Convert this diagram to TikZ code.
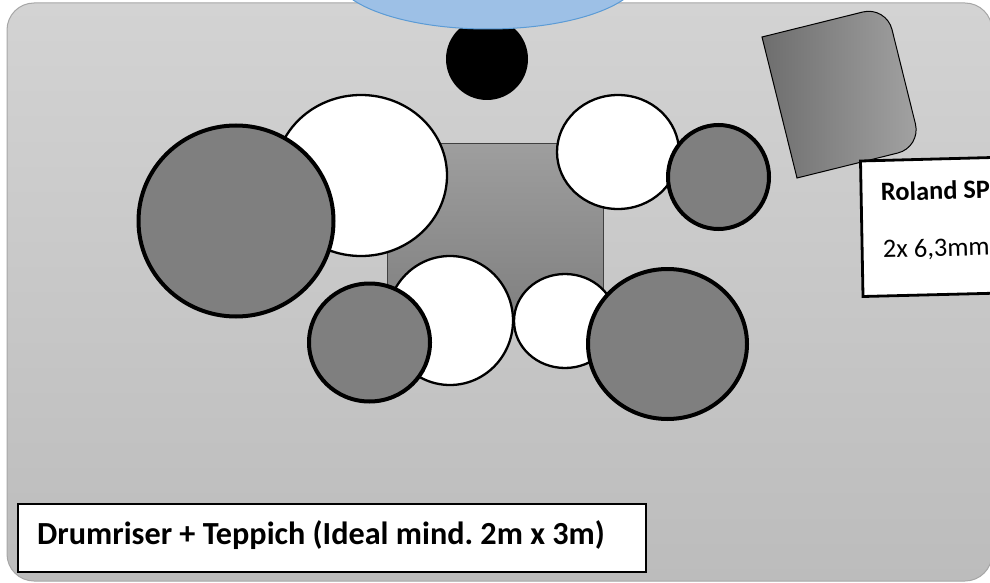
\documentclass[tikz,border=0pt]{standalone}
\usepackage{fontspec}
\setmainfont{Carlito}
\frenchspacing
\definecolor{bgtop}{HTML}{D3D3D3}
\definecolor{bgbot}{HTML}{BCBCBC}
\definecolor{bgline}{HTML}{A6A6A6}
\definecolor{grayfill}{HTML}{7F7F7F}
\definecolor{bluefill}{HTML}{9DC0E6}
\definecolor{blueline}{HTML}{5B9BD5}
\tikzset{
  whitedisc/.style={draw=black,line width=2.3pt,fill=white},
  graydisc/.style={draw=black,line width=4pt,fill=grayfill},
  labelbox/.style={draw=black,line width=2.8pt,fill=white},
  labeltext/.style={anchor=base west,inner sep=0pt,text=black}
}
\begin{document}
\begin{tikzpicture}[x=1pt,y=-1pt]
\useasboundingbox (0,0) rectangle (990,583);
\clip (0,0) rectangle (990,583);
% stage floor
\path[draw=bgline,line width=1pt,top color=bgtop,bottom color=bgbot,rounded corners=27pt]
  (7,3) rectangle (992,581);
% drummer and monitor
\fill[black] (487,59) ellipse [x radius=41,y radius=41];
\path[draw=blueline,line width=1pt,fill=bluefill] (488,-26) ellipse [x radius=153,y radius=55];
% riser
\path[draw=black!75,line width=1pt,top color=black!38,bottom color=black!50] (387,143) rectangle (603.5,320);
% sampling pad
\path[draw=black,line width=1pt,left color=black!57,right color=black!36]
  (762,37) [rounded corners=24pt] -- (886.2,6.2) -- (921.2,147.2) [sharp corners] -- (797,178) -- cycle;
% cymbals and drums
\path[whitedisc] (361,175.5) ellipse [x radius=86,y radius=80.5];
\path[graydisc] (236,221) ellipse [x radius=97.5,y radius=95.5];
\path[whitedisc] (618,152) ellipse [x radius=61,y radius=57];
\path[graydisc] (718.5,177) ellipse [x radius=50.5,y radius=52];
\path[whitedisc] (450,320.5) ellipse [x radius=63,y radius=64.5];
\path[whitedisc] (565,321) ellipse [x radius=51,y radius=47];
\path[graydisc] (369.5,342.5) ellipse [x radius=60.5,y radius=59];
\path[graydisc] (667.5,344) ellipse [x radius=79.5,y radius=75];
% labels
\path[labelbox] (860.5,161) -- (1000,157.3) -- (1003,293) -- (863,296.5) -- cycle;
\node[labeltext,rotate=1.5,font=\bfseries\fontsize{26.4}{27}\selectfont] (rolandname) at (881,201) {Roland SP};
\node[labeltext,rotate=1.5,font=\fontsize{26.5}{27}\selectfont] (rolandjack) at (883,258) {2x 6,3mm};
\path[labelbox] (18,504) rectangle (646,572);
\node[labeltext,font=\bfseries\fontsize{32.2}{33}\selectfont] (risertext) at (37,544) {Drumriser + Teppich (Ideal mind. 2m x 3m)};
\end{tikzpicture}
\end{document}
